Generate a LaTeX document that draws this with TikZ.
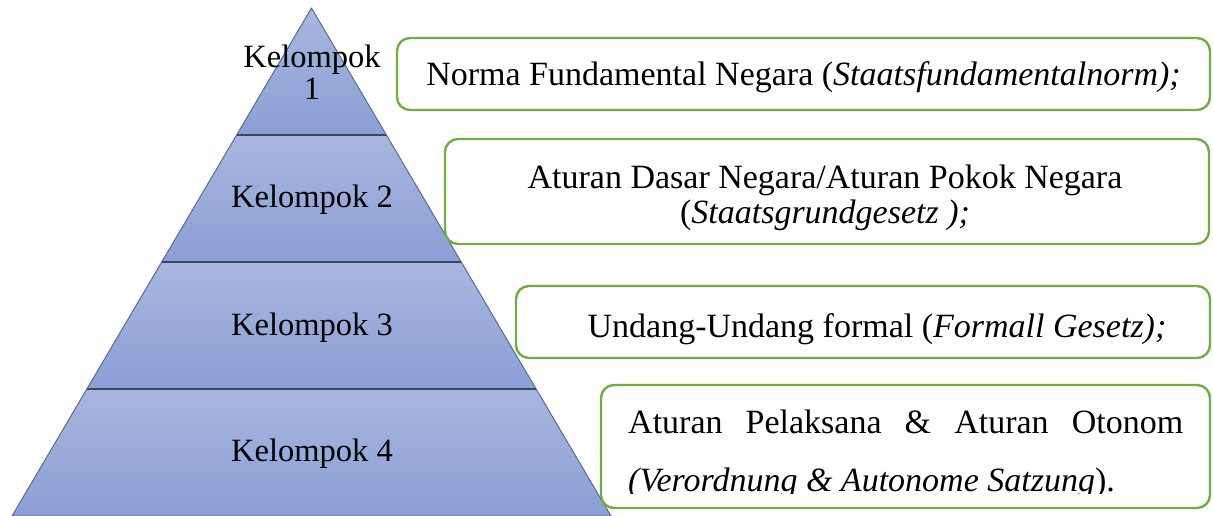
\documentclass[tikz,border=0pt]{standalone}
\usepackage{fontspec}
\setmainfont{Liberation Serif}
\usetikzlibrary{calc}
\definecolor{pyrtop}{HTML}{A9B7DF}
\definecolor{pyrbot}{HTML}{8A9FD6}
\definecolor{pyredge}{HTML}{5B6B8C}
\definecolor{bandline}{HTML}{3C475E}
\definecolor{boxgreen}{HTML}{70AD47}
\tikzset{
  band/.style={top color=pyrtop, bottom color=pyrbot, draw=none},
  lbl/.style={font=\fontsize{32.5}{36}\selectfont, inner sep=0pt, align=center},
  greenbox/.style={draw=boxgreen, line width=2.4pt, rounded corners=13pt, fill=white, inner sep=0pt},
  boxtxt/.style={font=\fontsize{34}{36}\selectfont, inner sep=0pt, align=center},
}
\begin{document}
\begin{tikzpicture}[x=1pt,y=-1pt]
\useasboundingbox (0,0) rectangle (1213,516);
\coordinate (A) at (311.5,8);
\coordinate (BL) at (12,516);
\coordinate (BR) at (611,516);
\coordinate (L1) at ($(A)!0.25!(BL)$);
\coordinate (R1) at ($(A)!0.25!(BR)$);
\coordinate (L2) at ($(A)!0.5!(BL)$);
\coordinate (R2) at ($(A)!0.5!(BR)$);
\coordinate (L3) at ($(A)!0.75!(BL)$);
\coordinate (R3) at ($(A)!0.75!(BR)$);
% bands
\shade[band] (A) -- (R1) -- (L1) -- cycle;
\shade[band] (L1) -- (R1) -- (R2) -- (L2) -- cycle;
\shade[band] (L2) -- (R2) -- (R3) -- (L3) -- cycle;
\shade[band] (L3) -- (R3) -- (BR) -- (BL) -- cycle;
\draw[pyredge, line width=1pt, line join=round] (A) -- (BR) -- (BL) -- cycle;
\draw[bandline, line width=1.6pt] (L1) -- (R1);
\draw[bandline, line width=1.6pt] (L2) -- (R2);
\draw[bandline, line width=1.6pt] (L3) -- (R3);
% labels
\node[lbl] (k1) at (312,72) {Kelompok\\[-4pt]1};
\node[lbl] (k2) at (312,200) {Kelompok 2};
\node[lbl] (k3) at (312,328) {Kelompok 3};
\node[lbl] (k4) at (312,454) {Kelompok 4};
% boxes
\node[greenbox, minimum width=813pt, minimum height=72pt] (b1) at (803.5,74) {};
\node[greenbox, minimum width=764pt, minimum height=105pt] (b2) at (827,191.5) {};
\node[greenbox, minimum width=694pt, minimum height=72pt] (b3) at (863,322) {};
\node[greenbox, minimum width=609pt, minimum height=123pt] (b4) at (905.5,446.5) {};
\node[boxtxt] (t1) at (803.5,77) {Norma Fundamental Negara (\textit{Staatsfundamentalnorm);}};
\node[boxtxt] (t2) at (825,198) {Aturan Dasar Negara/Aturan Pokok Negara\\[-1pt](\textit{Staatsgrundgesetz );}};
\node[boxtxt] (t3) at (877,329) {Undang-Undang formal (\textit{Formall Gesetz);}};
\begin{scope}
\clip (601,385) rectangle (1210,493);
\node[boxtxt, align=left, anchor=west] (t4) at (628,454) {\makebox[555pt][s]{Aturan Pelaksana \& Aturan Otonom}\\[22pt]\textit{(Verordnung \& Autonome Satzung}).};
\end{scope}
\end{tikzpicture}
\end{document}
